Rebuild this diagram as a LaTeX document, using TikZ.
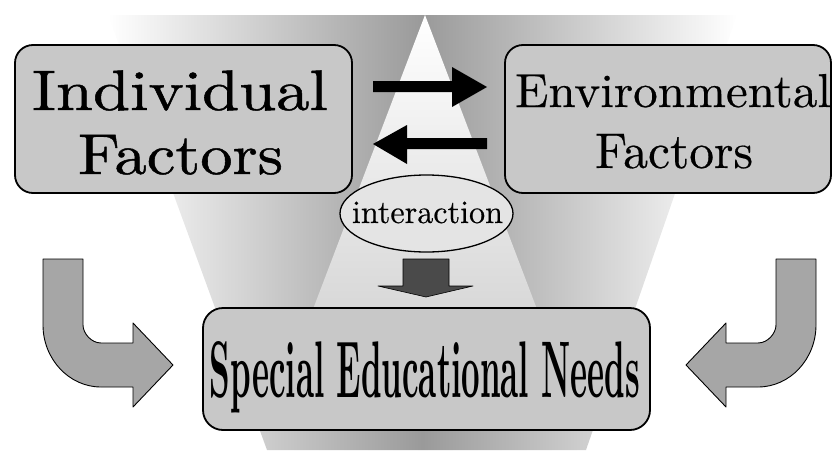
\documentclass[tikz,border=0pt]{standalone}
\usepackage{fontspec}
\newfontfamily\lmheavy[FakeBold=0.8]{Latin Modern Roman}
\newfontfamily\lmmedium[FakeBold=0.4]{Latin Modern Roman}
\usetikzlibrary{shapes.geometric}
\definecolor{boxgray}{HTML}{C8C8C8}
\definecolor{ellgray}{HTML}{E4E4E4}
\definecolor{bendgray}{HTML}{A6A6A6}
\definecolor{downgray}{HTML}{4A4A4A}
\definecolor{funnelgray}{HTML}{9A9A9A}
\definecolor{trigray}{HTML}{C8C8C8}
\begin{document}
\begin{tikzpicture}[x=1pt,y=-1pt,
  box/.style={draw=black, line width=1.8pt, fill=boxgray, rounded corners=18pt, inner sep=0pt},
  txt/.style={anchor=base, inner sep=0pt, outer sep=0pt},
  blockarrow/.style={fill=black},
  bendarrow/.style={draw=black, line width=0.9pt, fill=bendgray, line join=round},
  downarrow/.style={draw=black, line width=0.6pt, fill=downgray, line join=round}]
\useasboundingbox (0,0) rectangle (833,450);
% background funnel and light triangle
\shade[left color=white, right color=white, middle color=funnelgray]
  (108,15) -- (737,15) -- (586,450) -- (267,450) -- cycle;
\shade[top color=white, bottom color=trigray]
  (425,15) -- (583,430) -- (267,430) -- cycle;
% boxes
\node[box, minimum width=337pt, minimum height=148pt] (ind) at (183.5,119) {};
\node[box, minimum width=326pt, minimum height=148pt] (env) at (668,119) {};
\node[box, rounded corners=20pt, minimum width=447pt, minimum height=122pt] (sen) at (426.5,369) {};
% texts
\node[txt] (indA) at (180,110) {\resizebox{296pt}{39.6pt}{\lmheavy\fontsize{10}{12}\selectfont Individual}};
\node[txt] (indB) at (180.5,174) {\resizebox{205pt}{39pt}{\lmheavy\fontsize{10}{12}\selectfont Factors}};
\node[txt] (envA) at (673,107) {\resizebox{316pt}{33pt}{\lmmedium\fontsize{10}{12}\selectfont Environmental}};
\node[txt] (envB) at (674,168) {\resizebox{158pt}{34pt}{\lmmedium\fontsize{10}{12}\selectfont Factors}};
\node[txt] (senT) at (425,397) {\resizebox{430pt}{56pt}{\fontsize{10}{12}\selectfont\bfseries Special Educational Needs}};
% interaction ellipse
\node[ellipse, draw=black, line width=1.3pt, fill=ellgray, minimum width=173pt, minimum height=77pt, inner sep=0pt] (inter) at (426.5,213.5) {};
\node[txt] (interT) at (427.5,223) {\resizebox{151pt}{21.4pt}{\lmmedium\fontsize{10}{12}\selectfont interaction}};
% black exchange arrows
\fill[blockarrow] (373,81) -- (452,81) -- (452,67) -- (487,87) -- (452,107) -- (452,92) -- (373,92) -- cycle;
\fill[blockarrow] (487,138) -- (407,138) -- (407,125) -- (373,144) -- (407,164) -- (407,149) -- (487,149) -- cycle;
% down arrow
\draw[downarrow] (403,259) -- (449,259) -- (449,286) -- (473,286) -- (426,297) -- (378,286) -- (403,286) -- cycle;
% bent arrows
\draw[bendarrow] (43,259) -- (43,325) .. controls (43,359) and (69,387) .. (101,387) -- (133,387) -- (133,407) -- (173,365) -- (133,323) -- (133,343) -- (101,343) .. controls (91,343) and (83,333) .. (83,325) -- (83,259) -- cycle;
\draw[bendarrow] (816,259) -- (816,325) .. controls (816,359) and (790,387) .. (758,387) -- (726,387) -- (726,407) -- (686,365) -- (726,323) -- (726,343) -- (758,343) .. controls (768,343) and (776,333) .. (776,325) -- (776,259) -- cycle;
\end{tikzpicture}
\end{document}
